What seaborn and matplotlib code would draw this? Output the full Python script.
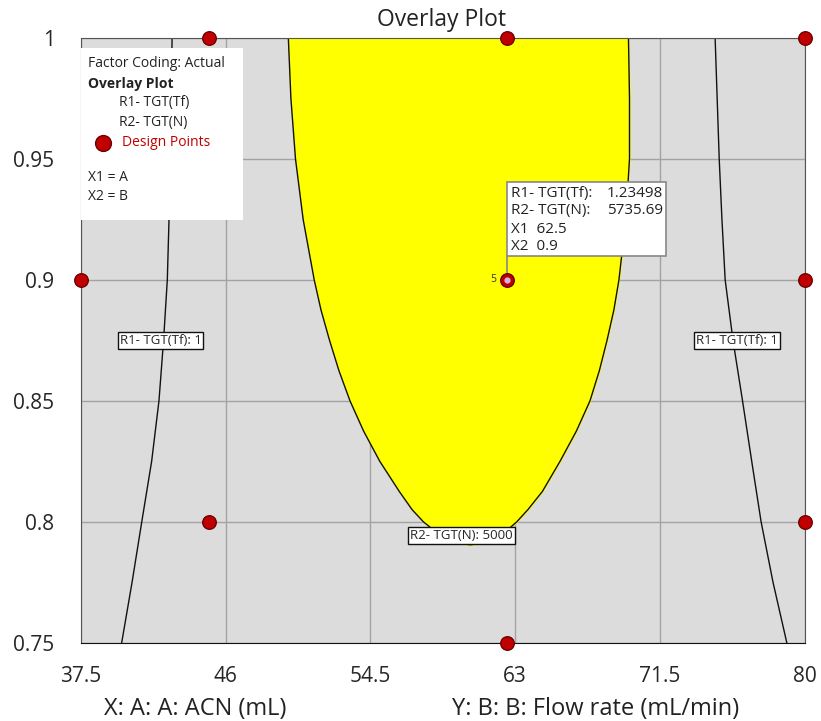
import matplotlib
matplotlib.use("Agg")
import matplotlib.pyplot as plt
import seaborn as sns
import pandas as pd
from matplotlib.patches import Rectangle

# design points: A = ACN (mL), B = flow rate (mL/min)
acn_pts = [45, 62.5, 80, 37.5, 62.5, 80, 45, 80, 62.5]
flow_pts = [1.0, 1.0, 1.0, 0.9, 0.9, 0.9, 0.8, 0.8, 0.75]

# yellow window bounded by R2 = 5000
win_flow = [1.0, 0.975, 0.95, 0.925, 0.9, 0.8875, 0.875, 0.8625, 0.85, 0.8375, 0.825,
            0.8125, 0.805, 0.8, 0.7975, 0.795, 0.7925, 0.791, 0.7905]
win_left = [49.68, 49.83, 50.1, 50.55, 51.2, 51.6, 52.1, 52.65, 53.3, 54.1, 55.05,
            56.2, 56.95, 57.61, 58.05, 58.55, 59.2, 59.8, 60.36]
win_right = [69.66, 69.72, 69.72, 69.5, 69.1, 68.8, 68.4, 67.95, 67.4, 66.6, 65.64,
             64.6, 63.75, 63.1, 62.7, 62.2, 61.6, 61.0, 60.36]

# R1 = 1 contour lines
r1_flow = [1.0, 0.95, 0.925, 0.9, 0.875, 0.85, 0.825, 0.8, 0.775, 0.75]
r1_left = [42.85, 42.75, 42.67, 42.57, 42.35, 42.08, 41.65, 41.07, 40.5, 39.89]
r1_right = [74.75, 74.99, 75.15, 75.34, 75.8, 76.36, 76.9, 77.45, 78.15, 78.96]

xticks = [37.5, 46, 54.5, 63, 71.5, 80]
xtick_labels = ["37.5", "46", "54.5", "63", "71.5", "80"]
yticks = [0.75, 0.8, 0.85, 0.9, 0.95, 1]
ytick_labels = ["0.75", "0.8", "0.85", "0.9", "0.95", "1"]

flag_labels = ["R1- TGT(Tf):", "R2- TGT(N):", "X1  62.5", "X2  0.9"]
flag_values = ["1.23498", "5735.69", "", ""]

sns.set_style("white")
plt.rcParams["font.family"] = ["Open Sans", "DejaVu Sans"]

fig = plt.figure(figsize=(8.21, 7.21), dpi=100)
ax = fig.add_axes([81 / 821, 1 - 642.7 / 721, 723.5 / 821, 604.7 / 721])
ax.set_facecolor("#dcdcdc")
ax.set_xlim(37.5, 80)
ax.set_ylim(0.75, 1)
ax.set_xticks(xticks)
ax.set_xticklabels(xtick_labels)
ax.set_yticks(yticks)
ax.set_yticklabels(ytick_labels)
ax.grid(True, color="#a3a3a3", lw=1)
ax.set_axisbelow(True)
ax.tick_params(axis="y", direction="out", length=13, width=1, pad=6, labelsize=15, color="#222")
ax.tick_params(axis="x", direction="out", length=11, width=1, pad=6, labelsize=15, color="#222")
for s in ["left", "right", "top"]:
    ax.spines[s].set_color("#555555")
ax.spines["bottom"].set_color("#111111")

# feasible window
ax.fill_betweenx(win_flow, win_left, win_right, color="#ffff00", zorder=1.5)
edge = pd.DataFrame({"x": win_left + win_right[::-1], "y": win_flow + win_flow[::-1]})
sns.lineplot(data=edge, x="x", y="y", sort=False, estimator=None, color="#111", lw=1, ax=ax, zorder=2)

for xs in [r1_left, r1_right]:
    sns.lineplot(x=xs, y=r1_flow, sort=False, estimator=None, color="#111", lw=1, ax=ax, zorder=2)

box = dict(boxstyle="square,pad=0.15", fc="white", ec="#111", lw=1)
ax.text(42.17, 0.8748, "R1- TGT(Tf): 1", fontsize=9.5, ha="center", va="center", bbox=box, zorder=4)
ax.text(76.04, 0.8748, "R1- TGT(Tf): 1", fontsize=9.5, ha="center", va="center", bbox=box, zorder=4)
ax.text(59.86, 0.7942, "R2- TGT(N): 5000", fontsize=9.5, ha="center", va="center", bbox=box, zorder=4)

# design points
pts = pd.DataFrame({"A": acn_pts, "B": flow_pts})
sns.scatterplot(data=pts, x="A", y="B", s=95, color="#c00000", edgecolor="#700000", linewidth=1,
                ax=ax, zorder=6, clip_on=False, legend=False)
ax.scatter([62.5], [0.9], s=12, color="#c8b8e0", zorder=7)
ax.text(61.9, 0.9, "5", fontsize=7.5, ha="right", va="center", color="#333", zorder=6)

# flag for the center point
ax.plot([62.5, 62.5], [0.9, 0.9099], color="#888", lw=1.2, zorder=5)
ax.add_patch(Rectangle((62.5, 0.9099), 9.37, 0.0306, fc="white", ec="#888", lw=1.2, zorder=5))
for i in range(4):
    yy = [0.9358, 0.9286, 0.9210, 0.9140][i]
    ax.text(62.75, yy, flag_labels[i], fontsize=11, va="center", color="#222", zorder=6)
    ax.text(68.4, yy, flag_values[i], fontsize=11, va="center", color="#222", zorder=6)

# legend panel
ax.add_patch(Rectangle((0, 0.699), 0.224, 0.2844, transform=ax.transAxes, fc="white", ec="none", zorder=5))
tk = dict(transform=ax.transAxes, fontsize=10, va="center", color="#222", zorder=6)
ax.text(0.0097, 0.9586, "Factor Coding: Actual", **tk)
ax.text(0.0097, 0.9237, "Overlay Plot", fontweight="bold", **tk)
ax.text(0.0525, 0.8931, "R1- TGT(Tf)", **tk)
ax.text(0.0525, 0.8600, "R2- TGT(N)", **tk)
ax.scatter([0.0304], [0.8269], s=130, color="#c00000", edgecolor="#700000", transform=ax.transAxes, zorder=6)
ax.text(0.0567, 0.8269, "Design Points", transform=ax.transAxes, fontsize=10, va="center",
        color="#c00000", zorder=6)
ax.text(0.0097, 0.7693, "X1 = A", **tk)
ax.text(0.0097, 0.7378, "X2 = B", **tk)

ax.set_xlabel("")
ax.set_ylabel("")
fig.text(441 / 821, 1 - 20 / 721, "Overlay Plot", fontsize=16.5, ha="center", va="center", color="#222")
fig.text(195 / 821, 1 - 709 / 721, "X: A: A: ACN (mL)", fontsize=17, ha="center", va="center", color="#222")
fig.text(596 / 821, 1 - 709 / 721, "Y: B: B: Flow rate (mL/min)", fontsize=17, ha="center", va="center",
         color="#222")

fig.savefig("out.png", dpi=100)
